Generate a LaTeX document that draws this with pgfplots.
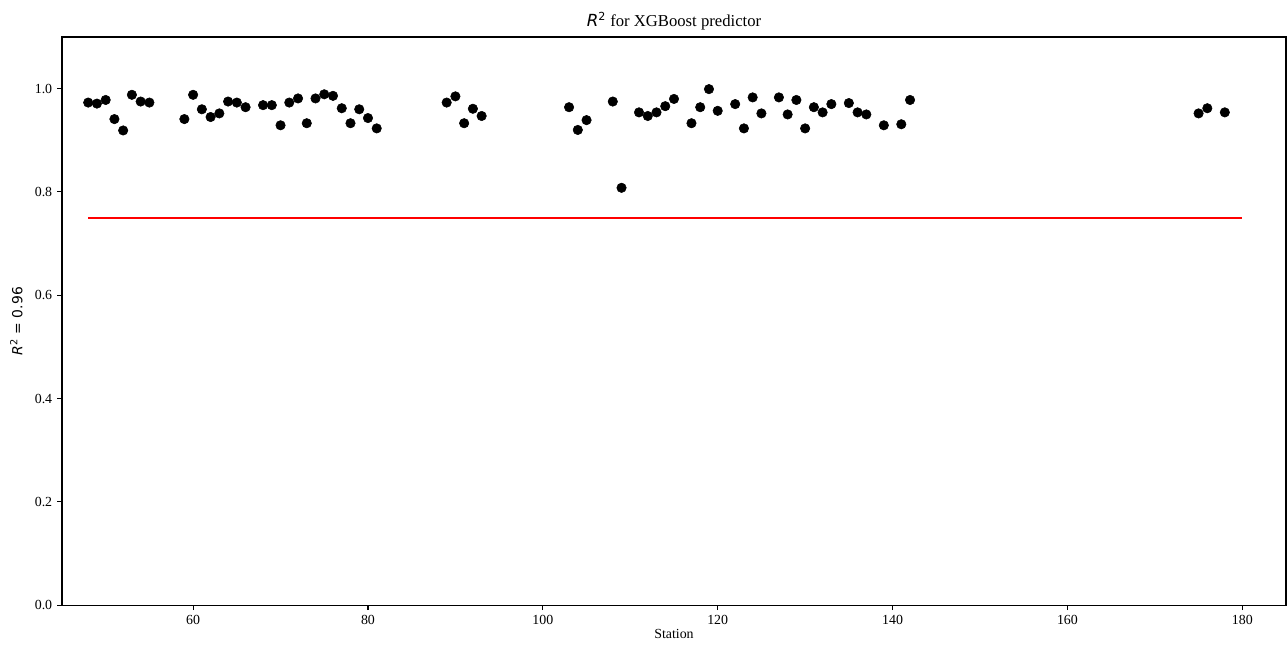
\documentclass[border=0pt]{standalone}
\usepackage{pgfplots}
\pgfplotsset{compat=1.18}
\usepackage{fontspec}
\setmainfont{Liberation Serif}
\newfontfamily\dejavu{DejaVu Sans}
\begin{document}
\begin{tikzpicture}
\begin{axis}[
  scale only axis,
  width=881pt, height=409pt,
  xmin=45, xmax=185, ymin=0, ymax=1.1,
  xtick={60,80,100,120,140,160,180},
  ytick={0,0.2,0.4,0.6,0.8,1.0},
  yticklabel style={/pgf/number format/.cd,fixed,fixed zerofill,precision=1},
  /pgf/number format/assume math mode=true,
  tick align=outside,
  major tick length=3.5pt,
  tick style={black, line width=0.8pt},
  axis line style={line width=0.8pt},
  xtick pos=bottom, ytick pos=left,
  tick label style={font=\fontsize{10}{12}\selectfont},
  title={{\dejavu\itshape R}{\dejavu\textsuperscript{2}} for XGBoost predictor},
  title style={font=\fontsize{12}{14}\selectfont, yshift=-4.5pt},
  xlabel={Station},
  ylabel={{\dejavu\itshape R}{\dejavu\textsuperscript{2} = 0.96}},
  label style={font=\fontsize{10}{12}\selectfont},
  xlabel style={yshift=3pt},
  ylabel style={yshift=2pt},
]
\addplot[red, line width=1.5pt] coordinates {(48,0.75) (180,0.75)};
\addplot[only marks, mark=*, mark size=3.4pt, mark options={black, fill=black}] coordinates {
(48,0.973) (49,0.971) (50,0.978) (51,0.941) (52,0.919) (53,0.988) (54,0.975) (55,0.973)
(59,0.941) (60,0.988) (61,0.960) (62,0.945) (63,0.952) (64,0.975) (65,0.973) (66,0.964)
(68,0.968) (69,0.968) (70,0.929) (71,0.973) (72,0.981) (73,0.933) (74,0.981) (75,0.989)
(76,0.986) (77,0.962) (78,0.933) (79,0.960) (80,0.943) (81,0.923)
(89,0.973) (90,0.985) (91,0.933) (92,0.961) (93,0.947)
(103,0.964) (104,0.920) (105,0.939) (108,0.975) (109,0.808)
(111,0.954) (112,0.947) (113,0.954) (114,0.966) (115,0.980) (117,0.933) (118,0.964)
(119,0.999) (120,0.957) (122,0.970) (123,0.923) (124,0.983) (125,0.952) (127,0.983)
(128,0.950) (129,0.978) (130,0.923) (131,0.964) (132,0.954) (133,0.970) (135,0.972)
(136,0.954) (137,0.950) (139,0.929) (141,0.931) (142,0.978)
(175,0.952) (176,0.962) (178,0.954)
};
\end{axis}
\pgfresetboundingbox
\path ([shift={(-44.6pt,-33.1pt)}]current axis.south west) rectangle ([shift={(0.72pt,26.6pt)}]current axis.north east);
\end{tikzpicture}
\end{document}
